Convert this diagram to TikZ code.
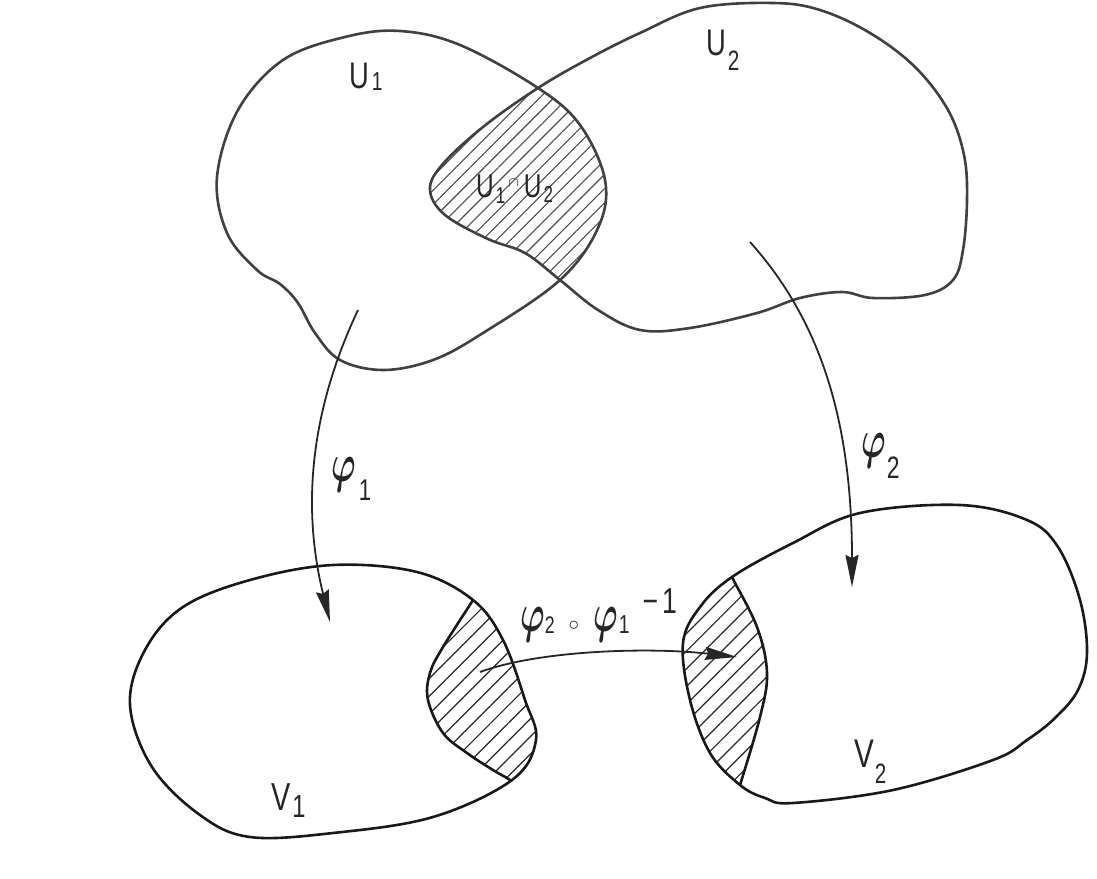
\documentclass[tikz,border=0pt]{standalone}
\usepackage{graphicx}
\usepackage{fontspec}
\setmainfont{Liberation Sans}[FakeStretch=0.74]
\usetikzlibrary{arrows.meta,patterns.meta}
% lowered / raised small text: #1 lowering, #2 size, #3 text
\newcommand\sbs[3]{\raisebox{-#1}{\fontsize{#2}{#2}\selectfont #3}}
\newcommand\mathat[3]{\scalebox{#1}[#2]{\fontsize{10}{10}\selectfont$#3$}}
\newcommand\bigphi{\scalebox{3.3}[5.4]{\fontsize{10}{10}\selectfont\boldmath$\varphi$}}
\newcommand\UonePath{plot[smooth cycle, tension=0.6] coordinates {(283,60) (345,37) (400,31) (460,45) (538,88) (580,125) (605,180) (598,228) (560,280) (483,333) (433,360) (383,370) (340,360) (315,333) (298,303) (280,284) (257,270) (227,233) (217,177) (238,110)}}
\newcommand\UtwoPath{plot[smooth cycle, tension=0.6] coordinates {(640,33) (700,8) (773,3) (820,10) (870,33) (915,67) (948,110) (964,155) (967,200) (963,250) (953,280) (925,295) (873,298) (842,292) (800,298) (757,313) (690,328) (640,330) (598,310) (560,280) (525,253) (488,239) (445,215) (430,190) (442,165) (483,127) (538,88) (590,58)}}
\newcommand\VonePath{plot[smooth cycle, tension=0.6] coordinates {(250,580) (333,565) (417,572) (473,600) (503,640) (525,700) (536,740) (512,780) (433,817) (333,833) (250,837) (200,815) (152,767) (130,705) (145,650) (183,607)}}
\newcommand\VtwoPath{plot[smooth cycle, tension=0.6] coordinates {(700,607) (732,577) (793,543) (860,513) (960,505) (1027,520) (1058,547) (1080,600) (1087,653) (1078,690) (1055,718) (1027,740) (993,760) (893,790) (793,803) (765,798) (740,785) (710,753) (690,700) (683,643)}}
\newcommand\VoneInner{plot[smooth, tension=0.6] coordinates {(482,585) (473,600) (443,647) (430,673) (428,700) (443,733) (467,753) (493,770) (510,780) (524,792)}}
\newcommand\VtwoInner{plot[smooth, tension=0.6] coordinates {(725,560) (732,577) (757,627) (767,673) (760,717) (740,785) (734,802)}}
\tikzset{
  uline/.style={draw=black!75, line width=2.6pt},
  vline/.style={draw=black!90, line width=2.6pt},
  lenshatch/.style={pattern={Lines[angle=45,distance=10pt,line width=1.1pt]}, pattern color=black!70},
  vhatch/.style={pattern={Lines[angle=45,distance=12.5pt,line width=1.2pt]}, pattern color=black!85},
  arr/.style={draw=black!85, line width=1.8pt, -{Stealth[length=32pt,width=13pt,inset=3pt]}},
  lab/.style={inner sep=0pt, anchor=base west, font=\fontsize{37}{37}\selectfont, text=black!85}
}
\begin{document}
\begin{tikzpicture}[x=1pt,y=-1pt]
\useasboundingbox (0,0) rectangle (1097,878);
\fill[white] (0,0) rectangle (1097,878);
% hatched regions
\begin{scope}
  \clip \UonePath;
  \fill[lenshatch] \UtwoPath;
\end{scope}
\begin{scope}
  \clip \VonePath;
  \fill[vhatch] \VoneInner -- (590,792) -- (590,585) -- cycle;
  \draw[vline] \VoneInner;
\end{scope}
\begin{scope}
  \clip \VtwoPath;
  \fill[vhatch] \VtwoInner -- (640,802) -- (640,560) -- cycle;
  \draw[vline] \VtwoInner;
\end{scope}
% outlines
\draw[uline] \UonePath;
\draw[uline] \UtwoPath;
\draw[vline] \VonePath;
\draw[vline] \VtwoPath;
% labels
\node[lab] (lu1) at (349,88) {U\hspace{3pt}\sbs{2pt}{26}{1}};
\node[lab] (lu2) at (706,55) {U\hspace{2pt}\sbs{15pt}{28}{2}};
\node[lab, font=\fontsize{33}{33}\selectfont] (lcap) at (476,197) {U\hspace{2pt}\sbs{6pt}{23}{1}\hspace{3pt}\raisebox{11pt}{\mathat{1.6}{1.3}{\cap}}\hspace{5pt}U\hspace{2pt}\sbs{5pt}{23}{2}};
\node[lab, font=\fontsize{39}{39}\selectfont] (lv1) at (271,810) {V\hspace{2pt}\sbs{7pt}{32}{1}};
\node[lab, font=\fontsize{40}{40}\selectfont] (lv2) at (854,767) {V\hspace{1pt}\sbs{16pt}{28}{2}};
\node[lab] (lphi1) at (331,481) {\bigphi\hspace{3pt}\sbs{19pt}{30}{1}};
\node[lab] (lphi2) at (861,457) {\bigphi\hspace{1pt}\sbs{21pt}{31}{2}};
\node[lab] (lcomp) at (520,631) {\bigphi\sbs{2pt}{24}{2}\hspace{14pt}\raisebox{1pt}{\mathat{2.1}{2.1}{\circ}}\hspace{14pt}\bigphi\hspace{1pt}\sbs{2pt}{26}{1}\hspace{13pt}\raisebox{18pt}{\fontsize{36}{36}\selectfont −\hspace{4pt}1}};
% arrows
\coordinate (p1s) at (358,310);
\coordinate (p1e) at (330,622);
\coordinate (p2s) at (750,242);
\coordinate (p2e) at (852,587);
\coordinate (tcs) at (480,672);
\coordinate (tce) at (737,657);
\draw[arr] (p1s) .. controls (325,380) and (295,480) .. (p1e);
\draw[arr] (p2s) .. controls (820,320) and (852,420) .. (p2e);
\draw[arr] (tcs) .. controls (540,650) and (650,647) .. (tce);
\end{tikzpicture}
\end{document}
